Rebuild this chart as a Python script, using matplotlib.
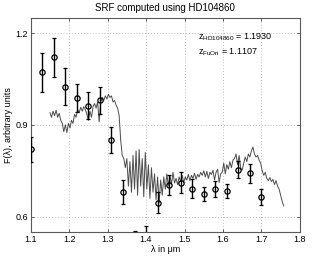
import numpy as np
import matplotlib
matplotlib.use("Agg")
import matplotlib.pyplot as plt

# photometric points (wavelength in micron, flux, error)
pt_wave = [1.10, 1.13, 1.16, 1.19, 1.22, 1.25, 1.28, 1.31, 1.34, 1.37, 1.40,
           1.43, 1.46, 1.49, 1.52, 1.55, 1.58, 1.61, 1.64, 1.67, 1.70]
pt_flux = [0.820, 1.072, 1.121, 1.025, 0.988, 0.963, 0.980, 0.850, 0.681, 0.505, 0.525,
           0.646, 0.704, 0.711, 0.691, 0.675, 0.689, 0.683, 0.753, 0.742, 0.665]
pt_err = [0.040, 0.064, 0.063, 0.060, 0.046, 0.044, 0.045, 0.042, 0.040, 0.048, 0.045,
          0.035, 0.033, 0.035, 0.031, 0.023, 0.026, 0.023, 0.028, 0.031, 0.026]

# spectrum, sampled every 0.004 micron starting at 1.150
spec_start = 1.150
spec_step = 0.004
spec_flux = [
    0.940, 0.925, 0.945, 0.930, 0.948, 0.925, 0.938, 0.915,              # 1.150-1.178
    0.905, 0.878, 0.900, 0.875, 0.905,                                    # 1.182-1.198
    0.890, 0.915, 0.905, 0.935, 0.925,                                    # 1.202-1.218
    0.950, 0.940, 0.958, 0.945, 0.960, 0.950,                             # 1.222-1.242
    0.935, 0.915, 0.945, 0.925,                                           # 1.246-1.258
    0.960, 0.970, 0.955, 0.975, 0.910,                                    # 1.262-1.278
    0.975, 0.990, 0.980, 0.995, 0.985, 1.000, 0.990, 0.995, 0.975, 0.980, # 1.282-1.318
    0.965, 0.955, 0.930, 0.850, 0.800, 0.790,                             # 1.322-1.342
    0.760, 0.790, 0.700, 0.780, 0.680, 0.800, 0.690, 0.815, 0.670, 0.820, # 1.344-1.380
    0.700, 0.790, 0.665, 0.810, 0.690, 0.770, 0.660, 0.760, 0.680, 0.740, # 1.384-1.420
    0.655, 0.730, 0.645, 0.720, 0.670, 0.730, 0.690, 0.740, 0.700, 0.735, # 1.424-1.460
    0.705, 0.745, 0.710,                                                  # 1.464-1.472
    0.725, 0.705, 0.730, 0.715, 0.735, 0.712, 0.730,                      # 1.476-1.500
    0.720, 0.738, 0.718, 0.735, 0.725, 0.742, 0.722, 0.738, 0.730, 0.745, # 1.504-1.540
    0.735, 0.750, 0.730, 0.748, 0.725, 0.745, 0.738, 0.752, 0.720, 0.745, # 1.544-1.580
    0.755, 0.712, 0.740, 0.745, 0.775, 0.740, 0.770, 0.755, 0.780, 0.760, # 1.584-1.620
    0.785, 0.790, 0.805, 0.770, 0.800, 0.760, 0.752, 0.775, 0.795, 0.780, # 1.624-1.660
    0.805, 0.795, 0.815, 0.828, 0.805, 0.795, 0.800, 0.785,               # 1.664-1.692
    0.775, 0.750, 0.735, 0.745,                                           # 1.696-1.708
    0.725, 0.718, 0.728, 0.715, 0.722, 0.705, 0.718, 0.700,               # 1.712-1.740
    0.690, 0.670, 0.650, 0.635,                                           # 1.744-1.756
]
spec_wave = spec_start + spec_step * np.arange(len(spec_flux))

x_ticks = [1.1, 1.2, 1.3, 1.4, 1.5, 1.6, 1.7, 1.8]
y_ticks = [0.6, 0.9, 1.2]

plt.rcParams["font.family"] = ["Liberation Sans", "DejaVu Sans"]
plt.rcParams["mathtext.default"] = "regular"

fig = plt.figure(figsize=(3.27, 2.56), dpi=100)
ax = fig.add_axes([0.094, 0.094, 0.823, 0.836])

ax.plot(spec_wave, spec_flux, color="0.3", linewidth=0.7, zorder=2)
ax.errorbar(pt_wave, pt_flux, yerr=pt_err, fmt="o", mfc="none", mec="black",
            ms=3.8, mew=0.9, ecolor="black", elinewidth=1.0, capsize=1.5,
            capthick=0.8, zorder=3)

ax.set_xlim(1.1, 1.8)
ax.set_ylim(0.55, 1.25)
ax.set_xticks(x_ticks)
ax.set_yticks(y_ticks)
ax.set_xticklabels(["%.1f" % t for t in x_ticks])
ax.set_yticklabels(["%.1f" % t for t in y_ticks])
ax.tick_params(direction="in", top=True, right=True, labelsize=6.5,
               length=2.5, width=0.6, colors="0.25", labelcolor="black", pad=2)
ax.grid(True, linestyle=(0, (1, 2.5)), color="0.65", linewidth=0.6)
for s in ax.spines.values():
    s.set_color("0.35")
    s.set_linewidth(0.8)

ax.set_title("SRF computed using HD104860", fontsize=7, pad=5)
ax.set_xlabel("λ in μm", fontsize=6.5, labelpad=1)
ax.set_ylabel("F(λ), arbitrary units", fontsize=6.5, labelpad=2)

ax.text(1.535, 1.187, "z$_{HD104860}$ = 1.1930", fontsize=6.5, va="center")
ax.text(1.535, 1.139, "z$_{FuOri}$ = 1.1107", fontsize=6.5, va="center")

fig.savefig("out.png", dpi=100)
